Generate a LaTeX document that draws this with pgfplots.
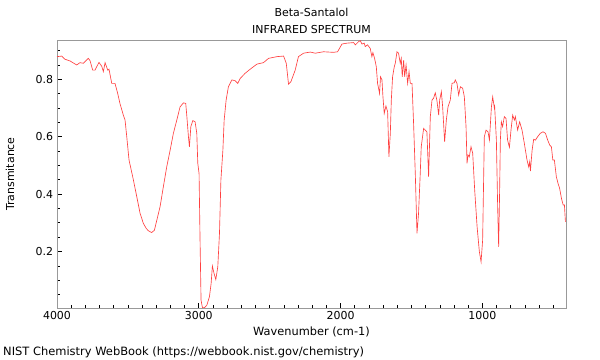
\documentclass[border=0pt]{standalone}
\usepackage{fontspec}
\setmainfont{DejaVu Sans}
\usepackage{pgfplots}
\pgfplotsset{compat=1.18}
\definecolor{spec}{rgb}{1,0.25,0.25}
\begin{document}
\fontsize{11}{13}\selectfont
\begin{tikzpicture}
\path[use as bounding box] (0,0) rectangle (600bp,360bp);
\begin{axis}[
  at={(57bp,52bp)}, anchor=south west,
  scale only axis, width=509bp, height=268bp,
  xmin=410, xmax=4000, ymin=0.003, ymax=0.937,
  x dir=reverse,
  xtick={1000,2000,3000,4000},
  minor xtick={500,600,...,3900},
  ytick={0.2,0.4,0.6,0.8},
  minor ytick={0.05,0.1,0.15,0.25,0.3,0.35,0.45,0.5,0.55,0.65,0.7,0.75,0.85,0.9},
  tick align=inside, xtick pos=bottom, ytick pos=left,
  major tick length=5bp, minor tick length=3bp,
  every tick/.style={black, line width=0.6pt},
  axis line style={gray!80, line width=0.8pt},
  /pgf/number format/assume math mode=true,
  xticklabel style={/pgf/number format/1000 sep={}, font=\fontsize{11}{13}\selectfont},
  yticklabel style={/pgf/number format/fixed, /pgf/number format/precision=1, /pgf/number format/fixed zerofill, font=\fontsize{11}{13}\selectfont},
]
\addplot[spec, line width=0.65pt] coordinates {
(4000,0.879)(3967,0.881)(3944,0.870)(3908,0.864)(3861,0.850)(3838,0.858)(3814,0.856)
(3779,0.873)(3767,0.865)(3748,0.832)(3732,0.832)(3704,0.859)(3685,0.846)(3673,0.827)
(3661,0.858)(3642,0.832)(3633,0.835)(3614,0.786)(3591,0.786)(3572,0.751)(3556,0.716)
(3532,0.675)(3520,0.658)(3508,0.600)(3492,0.519)(3461,0.449)(3437,0.390)(3414,0.333)
(3391,0.298)(3370,0.280)(3355,0.272)(3332,0.266)(3313,0.274)(3296,0.309)(3273,0.356)
(3250,0.425)(3226,0.495)(3202,0.553)(3179,0.612)(3155,0.658)(3132,0.704)(3108,0.718)
(3092,0.716)(3084,0.670)(3073,0.600)(3066,0.565)(3056,0.635)(3042,0.656)(3026,0.652)
(3014,0.612)(3007,0.507)(2998,0.472)(2991,0.239)(2984,0.030)(2974,0.004)(2960,0.004)
(2943,0.013)(2925,0.042)(2913,0.088)(2904,0.149)(2892,0.123)(2880,0.102)(2866,0.146)
(2854,0.263)(2844,0.449)(2830,0.553)(2821,0.658)(2807,0.728)(2791,0.774)(2767,0.798)
(2744,0.795)(2725,0.786)(2708,0.803)(2673,0.821)(2638,0.835)(2590,0.853)(2544,0.858)
(2508,0.873)(2449,0.879)(2402,0.881)(2383,0.856)(2367,0.783)(2350,0.792)(2320,0.832)
(2297,0.879)(2261,0.891)(2214,0.895)(2179,0.891)(2120,0.896)(2050,0.894)(2021,0.896)
(1990,0.923)(1955,0.926)(1908,0.928)(1896,0.920)(1873,0.931)(1861,0.935)(1849,0.923)
(1833,0.926)(1826,0.914)(1810,0.920)(1791,0.908)(1779,0.879)(1772,0.893)(1760,0.873)
(1748,0.844)(1739,0.786)(1725,0.751)(1718,0.809)(1708,0.798)(1701,0.739)(1692,0.681)
(1680,0.707)(1668,0.687)(1659,0.530)(1649,0.612)(1642,0.728)(1633,0.809)(1621,0.844)
(1614,0.856)(1602,0.896)(1591,0.891)(1579,0.856)(1572,0.873)(1565,0.809)(1555,0.867)
(1548,0.809)(1538,0.850)(1527,0.786)(1517,0.827)(1508,0.786)(1496,0.786)(1485,0.647)
(1473,0.472)(1461,0.263)(1450,0.333)(1438,0.472)(1431,0.565)(1414,0.629)(1391,0.617)
(1379,0.460)(1367,0.670)(1355,0.728)(1344,0.734)(1332,0.753)(1320,0.725)(1308,0.675)
(1301,0.728)(1289,0.757)(1280,0.704)(1266,0.582)(1254,0.658)(1242,0.704)(1226,0.728)
(1214,0.786)(1198,0.788)(1191,0.798)(1179,0.786)(1167,0.745)(1155,0.774)(1139,0.769)
(1127,0.739)(1115,0.635)(1108,0.507)(1101,0.536)(1092,0.530)(1080,0.565)(1068,0.542)
(1054,0.414)(1037,0.286)(1021,0.199)(1009,0.164)(998,0.239)(986,0.600)(974,0.623)
(960,0.617)(950,0.588)(936,0.704)(927,0.739)(915,0.699)(913,0.704)(901,0.588)
(892,0.356)(885,0.216)(878,0.414)(873,0.588)(866,0.652)(857,0.635)(845,0.670)
(833,0.664)(822,0.588)(809,0.563)(798,0.623)(786,0.675)(774,0.658)(767,0.670)
(751,0.623)(737,0.652)(720,0.623)(704,0.577)(685,0.519)(673,0.495)(666,0.513)
(661,0.480)(649,0.553)(638,0.591)(626,0.588)(610,0.600)(591,0.612)(572,0.617)
(555,0.612)(539,0.588)(525,0.571)(513,0.565)(503,0.519)(492,0.519)(478,0.460)
(466,0.437)(455,0.420)(442,0.385)(430,0.362)(421,0.362)(414,0.303)
};
\end{axis}
\node[inner sep=0pt] at (311.5bp,348bp) {Beta-Santalol};
\node[inner sep=0pt] at (311.5bp,330bp) {INFRARED SPECTRUM};
\node[inner sep=0pt, rotate=90] at (10bp,186bp) {Transmitance};
\node[inner sep=0pt, font=\fontsize{11.4}{13}\selectfont] at (311.5bp,28bp) {Wavenumber (cm-1)};
\node[inner sep=0pt, anchor=west, font=\fontsize{11.5}{13}\selectfont] at (3bp,8bp) {NIST Chemistry WebBook (https://webbook.nist.gov/chemistry)};
\end{tikzpicture}
\end{document}
